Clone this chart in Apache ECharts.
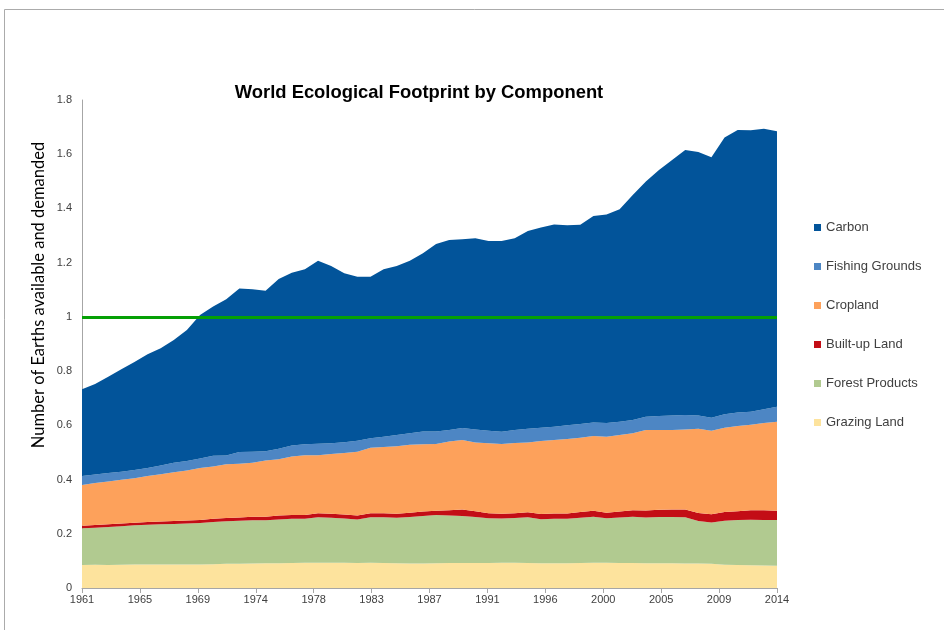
<!DOCTYPE html>
<html>
<head>
<meta charset="utf-8">
<script src="https://cdn.jsdelivr.net/npm/echarts@6/dist/echarts.min.js"></script>
<style>
  html, body { margin: 0; padding: 0; background: #fff; }
  #chart { width: 944px; height: 630px; }
</style>
</head>
<body>
<div id="chart"></div>
<script>
// Years covered by the footprint accounts
const years = [];
for (let y = 1961; y <= 2014; y++) years.push(String(y));

// Labels shown under the x axis (12 equal steps between first and last year)
const xTickLabels = ['1961', '1965', '1969', '1974', '1978', '1983', '1987', '1991', '1996', '2000', '2005', '2009', '2014'];

// Component footprints, in number of Earths
const grazingLand = [
  0.085, 0.086, 0.085, 0.086, 0.087, 0.087, 0.087, 0.087, 0.087, 0.087,
  0.088, 0.089, 0.089, 0.090, 0.091, 0.091, 0.092, 0.093, 0.093, 0.093,
  0.093, 0.092, 0.093, 0.092, 0.091, 0.090, 0.090, 0.091, 0.092, 0.092,
  0.092, 0.092, 0.093, 0.093, 0.092, 0.091, 0.091, 0.091, 0.092, 0.093,
  0.093, 0.092, 0.092, 0.091, 0.091, 0.091, 0.090, 0.090, 0.089, 0.086,
  0.085, 0.084, 0.083, 0.082
];
const forestProducts = [
  0.135, 0.136, 0.140, 0.142, 0.144, 0.146, 0.148, 0.149, 0.151, 0.153,
  0.155, 0.157, 0.159, 0.160, 0.159, 0.162, 0.163, 0.162, 0.168, 0.166,
  0.163, 0.161, 0.168, 0.169, 0.168, 0.172, 0.176, 0.178, 0.175, 0.174,
  0.170, 0.165, 0.163, 0.165, 0.169, 0.163, 0.164, 0.164, 0.167, 0.170,
  0.164, 0.168, 0.171, 0.169, 0.171, 0.171, 0.171, 0.157, 0.153, 0.162,
  0.166, 0.168, 0.168, 0.169
];
const builtUpLand = [
  0.010, 0.010, 0.010, 0.010, 0.010, 0.010, 0.010, 0.011, 0.011, 0.011,
  0.012, 0.012, 0.012, 0.013, 0.013, 0.014, 0.014, 0.014, 0.015, 0.015,
  0.015, 0.014, 0.015, 0.015, 0.015, 0.016, 0.016, 0.016, 0.020, 0.024,
  0.021, 0.019, 0.018, 0.018, 0.018, 0.019, 0.020, 0.020, 0.021, 0.022,
  0.021, 0.022, 0.024, 0.026, 0.027, 0.028, 0.029, 0.030, 0.030, 0.032,
  0.032, 0.035, 0.036, 0.034
];
const cropland = [
  0.150, 0.155, 0.158, 0.161, 0.164, 0.170, 0.175, 0.180, 0.184, 0.192,
  0.193, 0.198, 0.198, 0.199, 0.207, 0.208, 0.216, 0.221, 0.214, 0.220,
  0.227, 0.236, 0.241, 0.244, 0.249, 0.250, 0.248, 0.246, 0.253, 0.256,
  0.254, 0.258, 0.257, 0.259, 0.258, 0.269, 0.271, 0.275, 0.274, 0.276,
  0.280, 0.282, 0.284, 0.297, 0.294, 0.293, 0.295, 0.310, 0.308, 0.311,
  0.315, 0.315, 0.322, 0.328
];
const fishingGrounds = [
  0.033, 0.032, 0.031, 0.030, 0.030, 0.030, 0.032, 0.035, 0.035, 0.035,
  0.040, 0.033, 0.044, 0.041, 0.034, 0.039, 0.041, 0.040, 0.042, 0.040,
  0.040, 0.040, 0.035, 0.038, 0.041, 0.043, 0.047, 0.046, 0.043, 0.044,
  0.048, 0.046, 0.045, 0.048, 0.050, 0.049, 0.049, 0.050, 0.051, 0.049,
  0.051, 0.049, 0.049, 0.049, 0.051, 0.053, 0.053, 0.049, 0.048, 0.050,
  0.049, 0.048, 0.050, 0.056
];
const carbon = [
  0.320, 0.333, 0.355, 0.378, 0.399, 0.419, 0.432, 0.453, 0.484, 0.529,
  0.550, 0.576, 0.603, 0.599, 0.592, 0.626, 0.637, 0.646, 0.675, 0.654,
  0.623, 0.605, 0.596, 0.618, 0.624, 0.636, 0.658, 0.692, 0.701, 0.696,
  0.705, 0.700, 0.704, 0.707, 0.730, 0.739, 0.746, 0.738, 0.735, 0.762,
  0.769, 0.784, 0.830, 0.867, 0.908, 0.943, 0.978, 0.972, 0.961, 1.021,
  1.042, 1.038, 1.035, 1.016
];

// One Earth: the planet's available biocapacity
const earthsAvailable = 1;

const span = years.length - 1;
const tickStep = span / (xTickLabels.length - 1);

const layers = [
  { name: 'Grazing Land', data: grazingLand, color: '#FDE39D' },
  { name: 'Forest Products', data: forestProducts, color: '#B1CA90' },
  { name: 'Built-up Land', data: builtUpLand, color: '#C30D16' },
  { name: 'Cropland', data: cropland, color: '#FDA15B' },
  { name: 'Fishing Grounds', data: fishingGrounds, color: '#4D86C4' },
  { name: 'Carbon', data: carbon, color: '#02549A' }
];

const series = layers.map(function (layer, idx) {
  const s = {
    name: layer.name,
    type: 'line',
    stack: 'footprint',
    xAxisIndex: 0,
    symbol: 'none',
    smooth: false,
    lineStyle: { width: 0, color: layer.color },
    itemStyle: { color: layer.color },
    areaStyle: { color: layer.color, opacity: 1 },
    data: layer.data,
    z: 2
  };
  if (idx === layers.length - 1) {
    s.markLine = {
      silent: true,
      symbol: 'none',
      label: { show: false },
      lineStyle: { color: '#05A005', width: 3, type: 'solid' },
      data: [{ yAxis: earthsAvailable }],
      z: 5
    };
  }
  return s;
});

const labelFont = 'Liberation Sans, Arial, sans-serif';

const chart = echarts.init(document.getElementById('chart'), null, { renderer: 'canvas' });

chart.setOption({
  animation: false,
  backgroundColor: '#ffffff',
  title: {
    text: 'World Ecological Footprint by Component',
    left: 414,
    textAlign: 'center',
    top: 79,
    textStyle: {
      fontFamily: labelFont,
      fontSize: 18.4,
      fontWeight: 'bold',
      color: '#000000'
    }
  },
  legend: {
    orient: 'vertical',
    left: 809,
    top: 216,
    itemWidth: 7,
    itemHeight: 7,
    itemGap: 26,
    icon: 'rect',
    data: ['Carbon', 'Fishing Grounds', 'Cropland', 'Built-up Land', 'Forest Products', 'Grazing Land'],
    textStyle: {
      fontFamily: labelFont,
      fontSize: 13,
      color: '#404040'
    }
  },
  grid: { left: 82, right: 167, top: 100, bottom: 42, containLabel: false },
  xAxis: [
    {
      // data axis: one category per year
      type: 'category',
      data: years,
      boundaryGap: false,
      axisLine: { show: false },
      axisTick: { show: false },
      axisLabel: { show: false },
      splitLine: { show: false }
    },
    {
      // tick axis: 12 equal steps across the same span
      type: 'value',
      min: 0,
      max: span,
      interval: tickStep,
      position: 'bottom',
      axisLine: { show: true, lineStyle: { color: '#A6A6A6', width: 1 } },
      axisTick: { show: true, length: 5, lineStyle: { color: '#A6A6A6' } },
      splitLine: { show: false },
      axisLabel: {
        margin: 6,
        fontFamily: labelFont,
        fontSize: 11,
        color: '#404040',
        formatter: function (v) {
          const k = Math.round(v / tickStep);
          return xTickLabels[k] || '';
        }
      }
    }
  ],
  yAxis: {
    type: 'value',
    min: 0,
    max: 1.8,
    interval: 0.2,
    axisLine: { show: true, lineStyle: { color: '#A6A6A6', width: 1 } },
    axisTick: { show: false },
    splitLine: { show: false },
    axisLabel: {
      margin: 10,
      fontFamily: labelFont,
      fontSize: 11,
      color: '#404040'
    }
  },
  graphic: [
    {
      type: 'line',
      shape: { x1: 4.5, y1: 9.5, x2: 944, y2: 9.5 },
      style: { stroke: '#ABABAB', lineWidth: 1 },
      silent: true
    },
    {
      type: 'line',
      shape: { x1: 4.5, y1: 9.5, x2: 4.5, y2: 630 },
      style: { stroke: '#ABABAB', lineWidth: 1 },
      silent: true
    },
    {
      type: 'text',
      x: 39,
      y: 295,
      rotation: Math.PI / 2,
      style: {
        text: 'Number of Earths available and demanded',
        fontFamily: 'Lato, Liberation Sans, sans-serif',
        fontSize: 16.5,
        fill: '#000000',
        textAlign: 'center',
        textVerticalAlign: 'middle'
      },
      silent: true
    }
  ],
  series: series
});
</script>
</body>
</html>
